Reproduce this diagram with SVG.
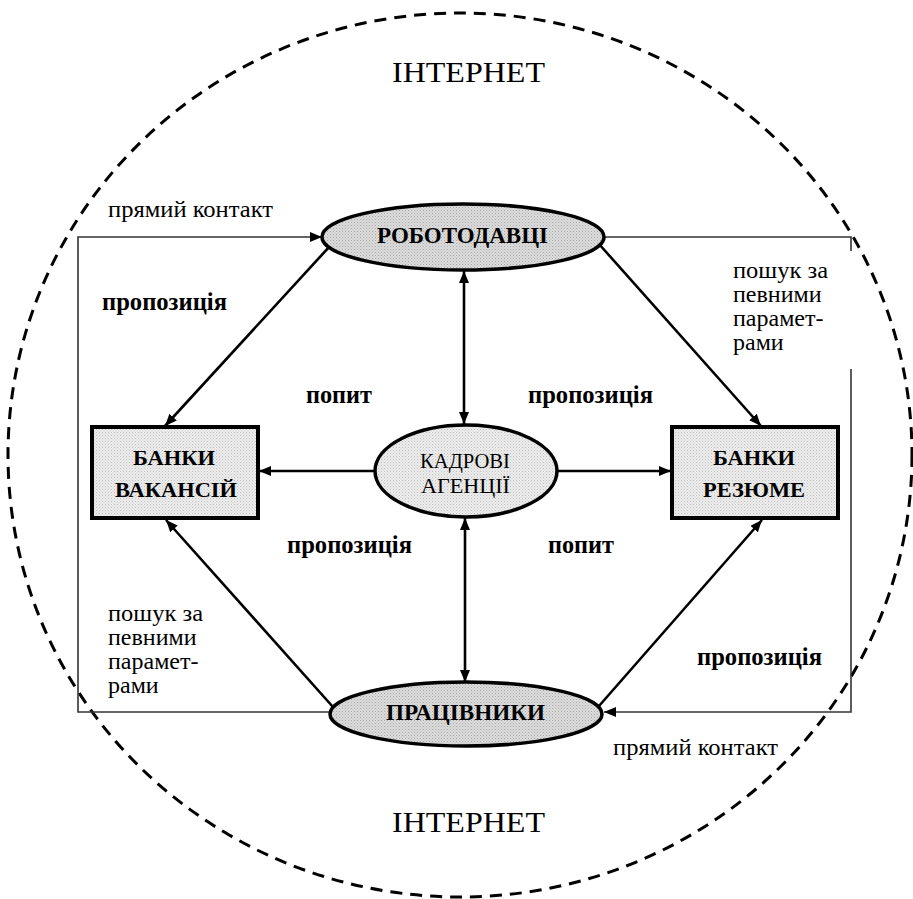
<svg xmlns="http://www.w3.org/2000/svg" width="913" height="899" viewBox="0 0 913 899">
<style>
.conn{stroke:#000;stroke-width:2.6;fill:none}
.frame{stroke:#333;stroke-width:1.6;fill:none}
.ell{stroke:#000;stroke-width:3.5;fill:url(#dotsDark)}
.ellc{stroke:#000;stroke-width:3.5;fill:url(#dotsLight)}
.box{stroke:#000;stroke-width:4;fill:url(#dotsLight)}
text{font-family:"Times New Roman","Liberation Serif",Tinos,"Noto Serif","DejaVu Serif",FreeSerif,Times,serif;fill:#000}
.b{font-weight:bold}
</style>
<defs>
<pattern id="dotsDark" width="3" height="3" patternUnits="userSpaceOnUse">
<rect width="3" height="3" fill="#dcdcdc"/>
<rect width="1" height="1" fill="#a8a8a8"/>
<rect x="1.5" y="1.5" width="1" height="1" fill="#b8b8b8"/>
</pattern>
<pattern id="dotsLight" width="3" height="3" patternUnits="userSpaceOnUse">
<rect width="3" height="3" fill="#ececec"/>
<rect width="1" height="1" fill="#c0c0c0"/>
<rect x="1.5" y="1.5" width="1" height="1" fill="#d0d0d0"/>
</pattern>
<marker id="ah" viewBox="0 0 12 10" refX="12" refY="5" markerWidth="12" markerHeight="10" markerUnits="userSpaceOnUse" orient="auto-start-reverse">
<path d="M0,0 L12,5 L0,10 Z" fill="#000"/>
</marker>
</defs>

<ellipse cx="460" cy="455" rx="452" ry="442" fill="none" stroke="#000" stroke-width="3" stroke-dasharray="12,8"/>

<text x="392" y="82" font-size="30" textLength="153" lengthAdjust="spacingAndGlyphs">ІНТЕРНЕТ</text>
<text x="392" y="832" font-size="30" textLength="153" lengthAdjust="spacingAndGlyphs">ІНТЕРНЕТ</text>

<g id="connectors">
<path class="frame" d="M322,237 L78,237 L78,712 L331,712" marker-start="url(#ah)"/>
<path class="frame" d="M603,237 L851,237 L851,251"/>
<path class="frame" d="M851,369 L851,712 L604,712" marker-end="url(#ah)"/>
<path class="conn" d="M330,246 L165,426" marker-end="url(#ah)"/>
<path class="conn" d="M599,244 L761,426" marker-end="url(#ah)"/>
<path class="conn" d="M464,271 L464,424" marker-start="url(#ah)" marker-end="url(#ah)"/>
<path class="conn" d="M375,471 L259,471" marker-end="url(#ah)"/>
<path class="conn" d="M557,471 L671,471" marker-end="url(#ah)"/>
<path class="conn" d="M465,518 L465,682" marker-start="url(#ah)" marker-end="url(#ah)"/>
<path class="conn" d="M333,707 L166,520" marker-end="url(#ah)"/>
<path class="conn" d="M599,706 L762,520" marker-end="url(#ah)"/>
</g>

<g id="robotodavtsi">
<ellipse class="ell" cx="463" cy="237" rx="141" ry="33"/>
<text class="b" x="377" y="243" font-size="24" textLength="171" lengthAdjust="spacingAndGlyphs">РОБОТОДАВЦІ</text>
</g>
<g id="kadrovi">
<ellipse class="ellc" cx="466" cy="471" rx="91" ry="46"/>
<text x="420" y="468" font-size="20" textLength="90" lengthAdjust="spacingAndGlyphs">КАДРОВІ</text>
<text x="421" y="493" font-size="20" textLength="89" lengthAdjust="spacingAndGlyphs">АГЕНЦІЇ</text>
</g>
<g id="banky-vakansii">
<rect class="box" x="92" y="427" width="166" height="91"/>
<text class="b" x="133" y="465" font-size="21" textLength="82" lengthAdjust="spacingAndGlyphs">БАНКИ</text>
<text class="b" x="115" y="497" font-size="21" textLength="122" lengthAdjust="spacingAndGlyphs">ВАКАНСІЙ</text>
</g>
<g id="banky-rezyume">
<rect class="box" x="672" y="427" width="166" height="91"/>
<text class="b" x="713" y="465" font-size="21" textLength="82" lengthAdjust="spacingAndGlyphs">БАНКИ</text>
<text class="b" x="703" y="497" font-size="21" textLength="102" lengthAdjust="spacingAndGlyphs">РЕЗЮМЕ</text>
</g>
<g id="pratsivnyky">
<ellipse class="ell" cx="466" cy="714" rx="136" ry="32"/>
<text class="b" x="386" y="720" font-size="23" textLength="159" lengthAdjust="spacingAndGlyphs">ПРАЦІВНИКИ</text>
</g>

<g id="labels">
<text x="108" y="217" font-size="24" textLength="165" lengthAdjust="spacingAndGlyphs">прямий контакт</text>
<text class="b" x="102" y="310" font-size="25" textLength="125" lengthAdjust="spacingAndGlyphs">пропозиція</text>
<text class="b" x="306" y="403" font-size="25" textLength="66" lengthAdjust="spacingAndGlyphs">попит</text>
<text class="b" x="528" y="403" font-size="25" textLength="125" lengthAdjust="spacingAndGlyphs">пропозиція</text>
<text class="b" x="287" y="553" font-size="25" textLength="125" lengthAdjust="spacingAndGlyphs">пропозиція</text>
<text class="b" x="548" y="553" font-size="25" textLength="66" lengthAdjust="spacingAndGlyphs">попит</text>
<text class="b" x="697" y="665" font-size="25" textLength="125" lengthAdjust="spacingAndGlyphs">пропозиція</text>
<text x="613" y="755" font-size="24" textLength="165" lengthAdjust="spacingAndGlyphs">прямий контакт</text>
<text x="733" y="278" font-size="24" textLength="95" lengthAdjust="spacingAndGlyphs">пошук за</text>
<text x="733" y="302" font-size="24">певними</text>
<text x="733" y="326" font-size="24">парамет-</text>
<text x="733" y="350" font-size="24">рами</text>
<text x="108" y="621" font-size="24" textLength="95" lengthAdjust="spacingAndGlyphs">пошук за</text>
<text x="108" y="645" font-size="24">певними</text>
<text x="108" y="669" font-size="24">парамет-</text>
<text x="108" y="693" font-size="24">рами</text>
</g>
</svg>
